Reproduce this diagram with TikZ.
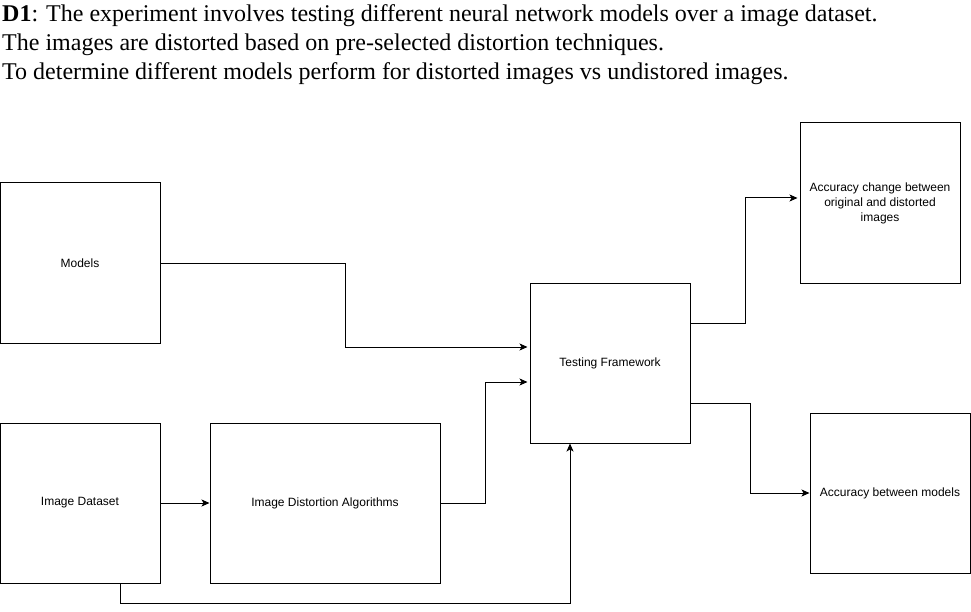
\documentclass[tikz,border=0pt]{standalone}
\usepackage{fontspec}
\setmainfont{Liberation Serif}
\newfontfamily\boxfont{Liberation Sans}
\usetikzlibrary{arrows.meta}
\begin{document}
\begin{tikzpicture}[x=1pt,y=-1pt,
  box/.style={draw,line width=1pt,rectangle,inner sep=0pt,minimum width=160pt,minimum height=160pt,font=\boxfont\fontsize{12}{15}\selectfont,align=center},
  wide/.style={box,minimum width=230pt},
  arr/.style={line width=1pt,-{Stealth[length=8pt,width=7pt,inset=2pt]}},
  title/.style={anchor=base west,inner sep=0pt,font=\fontsize{24}{29}\selectfont}]
\useasboundingbox (0,0) rectangle (971,612);
\node[title] (t1) at (2,22) {\textbf{D1}: The experiment involves testing different neural network models over a image dataset.};
\node[title] (t2) at (2,51) {The images are distorted based on pre-selected distortion techniques.};
\node[title] (t3) at (2,80) {To determine different models perform for distorted images vs undistored images.};

\node[box] (models) at (80,263) {Models};
\node[box] (data) at (80,503) {Image Dataset};
\node[wide] (dist) at (325,503) {Image Distortion Algorithms};
\node[box] (test) at (610,363) {Testing Framework};
\node[box] (acc1) at (880,203) {Accuracy change between\\original and distorted\\images};
\node[box] (acc2) at (890,493) {Accuracy between models};

\draw[arr,shorten >=2pt] (models.east) -- ++(185,0) |- ([yshift=16pt]test.west);
\draw[arr,shorten >=2pt] (dist.east) -- ++(45,0) |- ([yshift=-19pt]test.west);
\draw[arr] (data.east) -- (dist.west);
\draw[arr] ([xshift=40pt]data.south) -- ++(0,20) -| (test.south -| 570,0);
\draw[arr,shorten >=2pt] ([yshift=40pt]test.east) -- ++(55,0) |- ([yshift=5pt]acc1.west);
\draw[arr] ([yshift=-40pt]test.east) -- ++(60,0) |- (acc2.west);
\end{tikzpicture}
\end{document}
